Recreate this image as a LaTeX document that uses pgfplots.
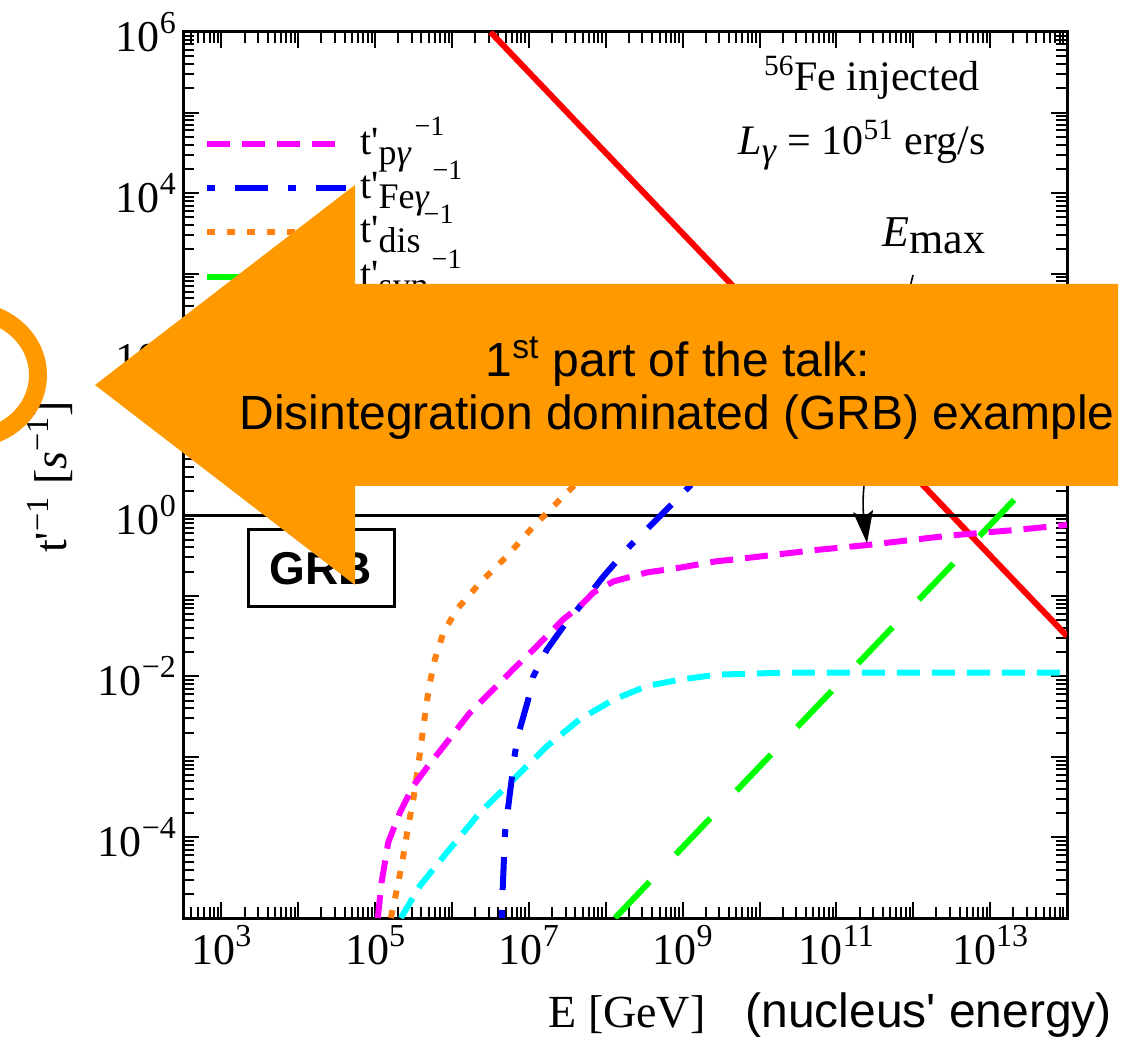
\documentclass[border=0pt]{standalone}
\usepackage{fontspec}
\setmainfont{Liberation Serif}
\newfontfamily\arialfont{Liberation Sans}
\usepackage{pgfplots}
\pgfplotsset{compat=1.18}
\usetikzlibrary{arrows.meta}

\definecolor{ppink}{RGB}{255,0,255}
\definecolor{feblue}{RGB}{0,0,255}
\definecolor{disorange}{RGB}{255,128,16}
\definecolor{syngreen}{RGB}{0,255,0}
\definecolor{adcyan}{RGB}{0,255,255}
\definecolor{accred}{RGB}{255,0,0}
\definecolor{slideorange}{RGB}{255,153,0}

\tikzset{
  pgam/.style={ppink, line width=3pt, dash pattern=on 11.5pt off 6pt},
  fegam/.style={feblue, line width=3pt, dash pattern=on 4pt off 10pt on 16.5pt off 10pt},
  dis/.style={disorange, line width=3pt, dash pattern=on 4pt off 6pt},
  syn/.style={syngreen, line width=3pt, dash pattern=on 25pt off 19pt},
  adi/.style={adcyan, line width=3pt, dash pattern=on 11.5pt off 6pt},
  acc/.style={accred, line width=3pt},
}

\newcommand\tenp[1]{10\raisebox{9pt}{\fontsize{16}{16}\selectfont #1}}
\newcommand\legfont{\fontsize{20}{20}\selectfont}
\newcommand\rate[1]{t\textquotesingle\raisebox{-5pt}{\fontsize{18}{18}\selectfont #1}\kern1.5pt\raisebox{9.5pt}{\fontsize{14}{14}\selectfont −1}}

\begin{document}
\begin{tikzpicture}
\begin{axis}[
  at={(91.5pt,-459pt)}, anchor=south west,
  scale only axis, width=442pt, height=443pt,
  xmode=log, ymode=log,
  xmin=316.23, xmax=1e14, ymin=1e-5, ymax=1e6,
  xtick={1e2,1e3,1e4,1e5,1e6,1e7,1e8,1e9,1e10,1e11,1e12,1e13,1e14},
  xticklabels={,\tenp{3},,\tenp{5},,\tenp{7},,\tenp{9},,\tenp{11},,\tenp{13},},
  ytick={1e-5,1e-4,1e-3,1e-2,1e-1,1,1e1,1e2,1e3,1e4,1e5,1e6},
  yticklabels={,\tenp{−4},,\tenp{−2},,\tenp{0},,\tenp{2},,\tenp{4},,\tenp{6}},
  tick label style={font=\fontsize{22}{22}\selectfont},
  tick align=inside,
  major tick length=8pt, minor tick length=5.3pt,
  every tick/.append style={line width=1pt, black},
  axis line style={line width=1.5pt},
]
% acceleration rate
\addplot[acc] coordinates {(3.16e6,1e6) (1e14,3.16e-2)};
% reference level t'^-1 = 1 s^-1
\addplot[black, line width=1.5pt] coordinates {(316.23,1) (1e14,1)};
% adiabatic (cyan)
\addplot[adi] coordinates {
  (2.16e5,1e-5) (3.82e5,2.51e-5) (8.51e5,6.46e-5) (2.31e6,2.04e-4)
  (6.27e6,5.25e-4) (1.71e7,1.35e-3) (4.62e7,2.95e-3) (1.26e8,5.13e-3)
  (3.42e8,7.59e-3) (9.27e8,9.12e-3) (2.79e9,1.05e-2) (2.04e10,1.11e-2)
  (1e14,1.11e-2)};
% synchrotron
\addplot[syn] coordinates {(1.32e8,1e-5) (1e14,7.59)};
% photodisintegration
\addplot[dis] coordinates {
  (1.60e5,1e-5) (2.00e5,2.75e-5) (2.32e5,5.89e-5) (2.69e5,1.38e-4)
  (3.13e5,2.95e-4) (3.63e5,7.76e-4) (4.14e5,2.00e-3) (4.67e5,4.68e-3)
  (5.15e5,8.32e-3) (5.98e5,1.62e-2) (7.69e5,3.47e-2) (1.15e6,6.76e-2)
  (2.31e6,1.45e-1) (5.14e6,3.09e-1) (1.14e7,7.24e-1) (1.88e7,1.17)
  (3.98e7,2.40) (1e8,6.31) (1e9,25.1) (3.16e10,79.4) (1e14,200)};
% Fe-gamma
\addplot[fegam] coordinates {
  (4.43e6,1e-5) (4.56e6,2.29e-5) (4.89e6,1.15e-4) (5.68e6,3.63e-4)
  (6.59e6,1.12e-3) (7.59e6,2.19e-3) (9.77e6,5.13e-3) (1.14e7,1e-2)
  (1.71e7,2.14e-2) (2.81e7,4.17e-2) (4.62e7,7.41e-2) (9.31e7,1.74e-1)
  (2.07e8,4.17e-1) (5.09e8,9.77e-1) (1.23e9,2.29) (3.98e9,7.08)
  (3.16e10,25.1) (1e14,200)};
% p-gamma
\addplot[pgam] coordinates {
  (1.08e5,1e-5) (1.21e5,2.75e-5) (1.48e5,8.7e-5) (2.10e5,2.04e-4)
  (3.13e5,4.37e-4) (4.90e5,7.76e-4) (8.51e5,1.51e-3) (1.71e6,3.55e-3)
  (3.81e6,7.59e-3) (6.27e6,1.23e-2) (1.14e7,2.14e-2) (1.71e7,3.16e-2)
  (2.81e7,5.13e-2) (4.62e7,7.41e-2) (6.90e7,1.10e-1) (1.26e8,1.51e-1)
  (3.42e8,1.95e-1) (9.27e8,2.24e-1) (2.79e9,2.69e-1) (4.57e9,2.82e-1)
  (5.62e10,3.72e-1) (2.51e11,4.27e-1) (3.09e12,5.62e-1) (2.29e13,6.61e-1)
  (1e14,7.59e-1)};
\end{axis}

\begin{scope}[x=0.5pt, y=-0.5pt]
  % legend
  \draw[pgam]  (207,144) -- (345,144);
  \node[anchor=base west, font=\legfont, inner sep=0pt] at (360,155) {\rate{p\textit{γ}}};
  \draw[fegam] (207,188) -- (346,188);
  \node[anchor=base west, font=\legfont, inner sep=0pt] at (360,199) {\rate{Fe\textit{γ}}};
  \draw[dis]   (207,232) -- (345,232);
  \node[anchor=base west, font=\legfont, inner sep=0pt] at (360,243) {\rate{dis}};
  \draw[syn]   (207,277) -- (345,277);
  \node[anchor=base west, font=\legfont, inner sep=0pt] at (360,288) {\rate{syn}};

  % source parameters
  \node[anchor=base, font=\fontsize{21}{21}\selectfont, inner sep=0pt] at (872,91) {\textsuperscript{56}Fe injected};
  \node[anchor=base, font=\fontsize{21}{21}\selectfont, inner sep=0pt] at (862,155)
    {\textit{L}\raisebox{-4pt}{\fontsize{18}{18}\selectfont\textit{γ}} = 10\textsuperscript{51} erg/s};
  \node[anchor=base, font=\fontsize{22}{22}\selectfont, inner sep=0pt] at (934,247)
    {\textit{E}\raisebox{-3.5pt}{max}};
  \draw[line width=0.8pt, -{Stealth[length=16pt, width=10pt, inset=3pt]}]
    (913,275) .. controls (885,390) and (858,470) .. (867,543);

  % source class
  \node[draw, fill=white, line width=1.5pt, minimum width=73pt, minimum height=38.5pt,
        inner sep=0pt, font=\arialfont\bfseries\fontsize{23}{23}\selectfont] at (321,568.5) {GRB};

  % axis titles
  \node[rotate=90, anchor=base, inner sep=0pt, font=\fontsize{23}{23}\selectfont] at (67,477)
    {t\textquotesingle\textsuperscript{−1} [\textit{s}\textsuperscript{−1}]};
  \node[anchor=base west, inner sep=0pt, font=\fontsize{23}{23}\selectfont] at (548,1028) {E [GeV]};
  \node[anchor=base west, inner sep=0pt, font=\arialfont\fontsize{24}{24}\selectfont] at (745,1028)
    {(nucleus\textquotesingle{} energy)};

  % callout arrow
  \fill[slideorange] (95,385) -- (355,185) -- (355,284) -- (1118,284) -- (1118,486)
    -- (355,486) -- (355,585) -- cycle;
  \node[anchor=base, inner sep=0pt, font=\arialfont\fontsize{24}{24}\selectfont] at (678,377)
    {1\textsuperscript{st} part of the talk:};
  \node[anchor=base, inner sep=0pt, font=\arialfont\fontsize{24}{24}\selectfont] at (677,430)
    {Disintegration dominated (GRB) example};

  % highlight ring
  \begin{scope}
    \clip (0,0) rectangle (1137,1042);
    \draw[slideorange, line width=9pt] (-32,375) ellipse [x radius=70, y radius=64];
  \end{scope}
\end{scope}

\pgfresetboundingbox
\path[use as bounding box] (0,0) rectangle (568.5pt,-521pt);
\end{tikzpicture}
\end{document}
